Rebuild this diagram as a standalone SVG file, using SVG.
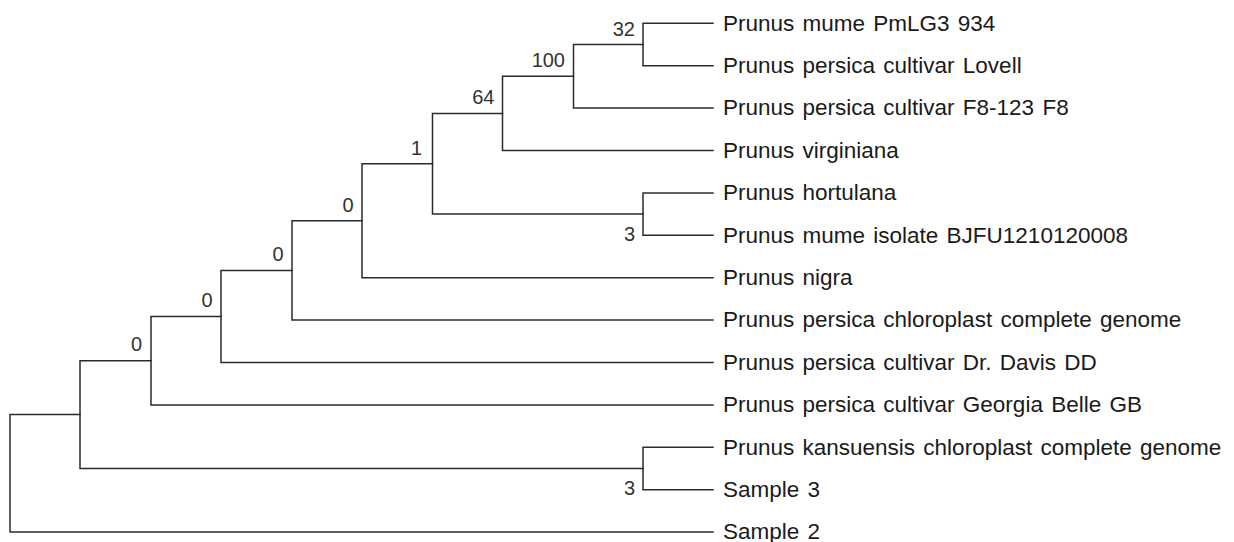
<svg xmlns="http://www.w3.org/2000/svg" width="1234" height="542" viewBox="0 0 1234 542">
<style>
  .br{fill:none;stroke:#2b2b2b;stroke-width:1.5;stroke-linecap:square;stroke-linejoin:miter}
  .leaf{font-family:"Liberation Sans",Arial,sans-serif;font-size:22.5px;word-spacing:2px;fill:#1a1a1a}
  .bs{font-family:"Liberation Sans",Arial,sans-serif;font-size:20px;fill:#333;text-anchor:end}
</style>
<rect width="1234" height="542" fill="#fff"/>
<g id="connectors">
  <path class="br" d="M80 414.6 H10 V532.1 H713"/>
  <path class="br" d="M151 360.7 H80 V468.5 H643"/>
  <path class="br" d="M221 316.5 H151 V404.9 H713"/>
  <path class="br" d="M292 270.4 H221 V362.5 H713"/>
  <path class="br" d="M362 220.7 H292 V320.1 H713"/>
  <path class="br" d="M432.5 163.75 H362 V277.7 H713"/>
  <path class="br" d="M502.5 113.4 H432.5 V214.1 H643"/>
  <path class="br" d="M573.5 76.3 H502.5 V150.5 H713"/>
  <path class="br" d="M643 44.5 H573.5 V108.1 H713"/>
  <path class="br" d="M713 23.3 H643 V65.7 H713"/>
  <path class="br" d="M713 192.9 H643 V235.3 H713"/>
  <path class="br" d="M713 447.3 H643 V489.7 H713"/>
</g>
<g id="node-A"><text class="bs" x="635" y="35.5">32</text></g>
<g id="node-B"><text class="bs" x="565" y="67">100</text></g>
<g id="node-C"><text class="bs" x="494.5" y="103.5">64</text></g>
<g id="node-D"><text class="bs" x="635" y="240.5">3</text></g>
<g id="node-E"><text class="bs" x="422" y="155">1</text></g>
<g id="node-F"><text class="bs" x="353.5" y="211.5">0</text></g>
<g id="node-G"><text class="bs" x="283.5" y="261">0</text></g>
<g id="node-H"><text class="bs" x="212.5" y="307">0</text></g>
<g id="node-I"><text class="bs" x="142" y="351">0</text></g>
<g id="node-J"><text class="bs" x="635" y="494.5">3</text></g>
<g id="node-K"></g>
<g id="node-root"></g>
<g id="leaf-1"><text class="leaf" x="723" y="30.5">Prunus mume PmLG3 934</text></g>
<g id="leaf-2"><text class="leaf" x="723" y="72.9">Prunus persica cultivar Lovell</text></g>
<g id="leaf-3"><text class="leaf" x="723" y="115.3">Prunus persica cultivar F8-123 F8</text></g>
<g id="leaf-4"><text class="leaf" x="723" y="157.7">Prunus virginiana</text></g>
<g id="leaf-5"><text class="leaf" x="723" y="200.1">Prunus hortulana</text></g>
<g id="leaf-6"><text class="leaf" x="723" y="242.5">Prunus mume isolate BJFU1210120008</text></g>
<g id="leaf-7"><text class="leaf" x="723" y="284.9">Prunus nigra</text></g>
<g id="leaf-8"><text class="leaf" x="723" y="327.3">Prunus persica chloroplast complete genome</text></g>
<g id="leaf-9"><text class="leaf" x="723" y="369.7">Prunus persica cultivar Dr. Davis DD</text></g>
<g id="leaf-10"><text class="leaf" x="723" y="412.1">Prunus persica cultivar Georgia Belle GB</text></g>
<g id="leaf-11"><text class="leaf" x="723" y="454.5">Prunus kansuensis chloroplast complete genome</text></g>
<g id="leaf-12"><text class="leaf" x="723" y="496.9">Sample 3</text></g>
<g id="leaf-13"><text class="leaf" x="723" y="539.3">Sample 2</text></g>
</svg>
